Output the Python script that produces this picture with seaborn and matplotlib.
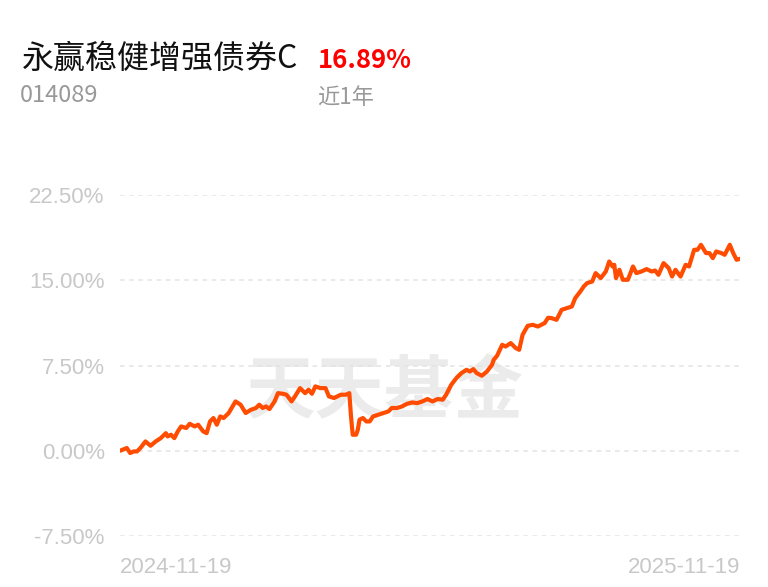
import pandas as pd
import matplotlib as mpl
mpl.use('Agg')
import matplotlib.pyplot as plt
import seaborn as sns

# 基金信息
fund_name = '永赢稳健增强债券C'
fund_code = '014089'
period_return = '16.89%'
period_label = '近1年'
start_date = '2024-11-19'
end_date = '2025-11-19'

# 累计收益率(%)，按距起始日的天数读取
day_offsets = [0, 4, 6, 8, 10, 12, 15, 18, 21, 24, 27, 28, 30, 32, 34, 36, 39, 41, 44, 46,
               49, 51, 53, 55, 57, 59, 61, 64, 68, 71, 74, 77, 80, 82, 84, 86, 88, 91, 93, 96,
               98, 101, 103, 106, 109, 111, 113, 115, 118, 121, 123, 126, 130, 133, 135, 136, 137, 139, 140, 141,
               143, 145, 147, 149, 152, 155, 158, 160, 163, 166, 169, 172, 175, 178, 181, 184, 187, 190, 192, 195,
               198, 201, 204, 206, 208, 210, 213, 216, 219, 220, 222, 225, 227, 230, 233, 235, 237, 240, 243, 246,
               248, 250, 252, 254, 257, 260, 263, 266, 268, 271, 273, 275, 278, 280, 283, 286, 288, 290, 291, 292,
               294, 296, 299, 302, 304, 307, 310, 313, 315, 317, 320, 323, 325, 327, 330, 333, 335, 338, 340, 342,
               345, 347, 349, 351, 354, 356, 359, 361, 363, 365]
returns_pct = [0.00, 0.24, -0.20, -0.06, -0.06, 0.24, 0.82, 0.44, 0.82, 1.11, 1.55, 1.26, 1.41, 1.11, 1.70, 2.14, 2.00, 2.37, 2.14, 2.29,
               1.70, 1.55, 2.58, 2.88, 2.29, 3.02, 2.88, 3.32, 4.34, 4.05, 3.32, 3.60, 3.76, 4.05, 3.76, 3.90, 3.67, 4.34, 5.07, 5.01,
               4.93, 4.34, 4.78, 5.51, 5.07, 5.37, 5.01, 5.66, 5.51, 5.51, 4.78, 4.64, 4.93, 4.93, 5.07, 3.02, 1.41, 1.41, 1.85, 2.73,
               2.88, 2.58, 2.58, 3.02, 3.17, 3.32, 3.46, 3.76, 3.76, 3.90, 4.13, 4.25, 4.19, 4.34, 4.55, 4.34, 4.55, 4.49, 4.93, 5.80,
               6.39, 6.83, 7.12, 6.97, 7.18, 6.83, 6.60, 6.97, 7.56, 8.00, 8.36, 9.32, 9.17, 9.47, 9.03, 8.88, 10.20, 10.99, 11.08, 10.93,
               11.08, 11.23, 11.70, 11.67, 11.52, 12.40, 12.55, 12.69, 13.43, 14.01, 14.45, 14.75, 14.89, 15.63, 15.19, 15.77, 16.65, 16.21, 16.36, 15.19,
               15.92, 15.04, 15.04, 16.21, 15.63, 15.77, 15.98, 15.77, 15.86, 15.48, 16.51, 16.07, 15.33, 15.92, 15.33, 16.36, 16.21, 17.68, 17.68, 18.12,
               17.39, 17.39, 16.95, 17.53, 17.39, 17.24, 18.12, 17.39, 16.80, 16.89]
y_ticks = [-7.5, 0, 7.5, 15, 22.5]

df = pd.DataFrame({
    'date': pd.Timestamp(start_date) + pd.to_timedelta(day_offsets, unit='D'),
    'ret': returns_pct,
})

sns.set_style('white')
plt.rcParams['font.family'] = ['Liberation Sans', 'Noto Sans CJK SC', 'DejaVu Sans']

fig = plt.figure(figsize=(7.68, 5.87), dpi=100)
ax = fig.add_axes([120 / 768, 1 - 536 / 587, 620 / 768, 341 / 587])

# 水印
ax.text(0.427, 0.419, '天天基金', transform=ax.transAxes, ha='center', va='center',
        fontsize=50, fontweight='bold', color='#ebebeb', family='Noto Sans CJK SC', zorder=0)

sns.lineplot(data=df, x='date', y='ret', color='#ff4c00', linewidth=3.0, ax=ax, zorder=3)

ax.set_ylim(-7.5, 22.5)
ax.set_xlim(pd.Timestamp(start_date), pd.Timestamp(end_date))
ax.set_yticks(y_ticks)
ax.set_yticklabels([f'{v:.2f}%' for v in y_ticks])
ax.set_xticks([pd.Timestamp(start_date), pd.Timestamp(end_date)])
ax.set_xticklabels([start_date, end_date])
xl = ax.get_xticklabels()
xl[0].set_ha('left')
xl[1].set_ha('right')
ax.tick_params(axis='y', length=0, pad=11, labelsize=16, labelcolor='#c8c8c8')
ax.tick_params(axis='x', length=0, pad=15, labelsize=16, labelcolor='#c8c8c8')
ax.grid(axis='y', color='#e3e3e3', linestyle=(0, (3, 3)), linewidth=1.1)
ax.grid(axis='x', visible=False)
ax.set_xlabel('')
ax.set_ylabel('')
for s in ax.spines.values():
    s.set_visible(False)

# 标题
fig.text(22 / 768, 1 - 59 / 587, fund_name, fontsize=23, color='#111111', va='center',
         family=['Noto Sans CJK SC', 'DejaVu Sans'])
fig.text(318 / 768, 1 - 60 / 587, period_return, fontsize=18.5, color='#ff0000', va='center',
         fontweight='bold', family=['Noto Sans CJK SC', 'DejaVu Sans'])
fig.text(20 / 768, 1 - 96 / 587, fund_code, fontsize=17, color='#999999', va='center',
         family=['Noto Sans CJK SC', 'DejaVu Sans'])
fig.text(317 / 768, 1 - 98 / 587, period_label, fontsize=16, color='#999999', va='center',
         family=['Noto Sans CJK SC', 'DejaVu Sans'])

plt.savefig('out.png', dpi=100)
